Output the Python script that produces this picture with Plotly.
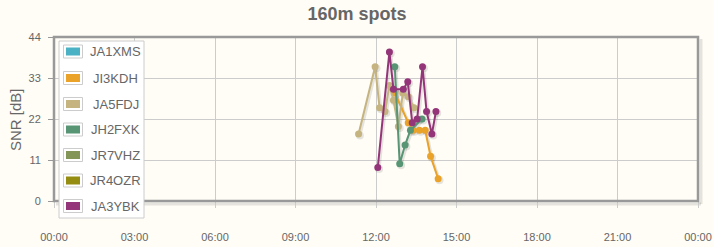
import plotly.graph_objects as go
import pandas as pd

DAY = "2024-01-01"

callsigns = ["JA1XMS", "JI3KDH", "JA5FDJ", "JH2FXK", "JR7VHZ", "JR4OZR", "JA3YBK"]
colors = ["#4bb2c5", "#EAA228", "#c5b47f", "#579575", "#839557", "#958c12", "#953579"]

ja1xms_t, ja1xms_v = [], []
ji3kdh_t = ["12:42", "13:12", "13:23", "13:37", "13:50", "14:02", "14:19"]
ji3kdh_v = [29, 21, 19, 19, 19, 12, 6]
ja5fdj_t = ["11:21", "11:58", "12:08", "12:20", "12:30", "12:39", "12:50", "13:00", "13:12", "13:25"]
ja5fdj_v = [18, 36, 25, 24, 31, 27, 20, 29, 28, 25]
jh2fxk_t = ["12:42", "12:53", "13:05", "13:17", "13:43"]
jh2fxk_v = [36, 10, 15, 19, 22]
jr7vhz_t, jr7vhz_v = [], []
jr4ozr_t, jr4ozr_v = [], []
ja3ybk_t = ["12:04", "12:30", "12:39", "13:01", "13:11", "13:21", "13:32", "13:44", "13:53", "14:05", "14:14"]
ja3ybk_v = [9, 40, 30, 30, 32, 21, 22, 36, 24, 18, 24]

series = [
    (ja1xms_t, ja1xms_v), (ji3kdh_t, ji3kdh_v), (ja5fdj_t, ja5fdj_v),
    (jh2fxk_t, jh2fxk_v), (jr7vhz_t, jr7vhz_v), (jr4ozr_t, jr4ozr_v),
    (ja3ybk_t, ja3ybk_v),
]

y_ticks = [0, 11, 22, 33, 44]
title = "160m spots"
y_title = "SNR [dB]"

W, H = 714, 247
L, R, T, B = 54, 16, 37, 46
pw, ph = W - L - R, H - T - B

BG = "#fffdf6"
TXT = "#666666"
FONT = "Liberation Sans, Arial, sans-serif"

fig = go.Figure()

def ts(lst, dmin=0):
    return [pd.Timestamp(f"{DAY} {s}") + pd.Timedelta(minutes=dmin) for s in lst]

# shadows
for (t, v), c in zip(series, colors):
    if not t:
        continue
    fig.add_trace(go.Scatter(
        x=ts(t, 3), y=[val - 0.4 for val in v], mode="lines+markers",
        line=dict(color="rgba(0,0,0,0.10)", width=3),
        marker=dict(color="rgba(0,0,0,0.10)", size=8),
        hoverinfo="skip", showlegend=False))

for (t, v), c, name in zip(series, colors, callsigns):
    fig.add_trace(go.Scatter(
        x=ts(t), y=v, mode="lines+markers", name=name,
        line=dict(color=c, width=2),
        marker=dict(color=c, size=7),
        showlegend=False))

# border shadow
px2x = 1.0 / pw
px2y = 1.0 / ph
fig.add_shape(type="line", xref="paper", yref="paper",
              x0=1 + 3 * px2x, x1=1 + 3 * px2x, y0=-3 * px2y, y1=1 - 2 * px2y,
              line=dict(color="rgba(0,0,0,0.10)", width=3), layer="below")
fig.add_shape(type="line", xref="paper", yref="paper",
              x0=2 * px2x, x1=1 + 3 * px2x, y0=-3 * px2y, y1=-3 * px2y,
              line=dict(color="rgba(0,0,0,0.10)", width=3), layer="below")
fig.add_shape(type="rect", xref="paper", yref="paper", x0=0, x1=1, y0=0, y1=1,
              line=dict(color="#999999", width=2.5), layer="above")

# legend (manual, jqplot style)
def px_x(p):
    return (p - L) / pw

def px_y(p):
    return (T + ph - p) / ph

fig.add_shape(type="rect", xref="paper", yref="paper",
              x0=px_x(59), x1=px_x(144), y0=px_y(218), y1=px_y(41),
              fillcolor="#ffffff", line=dict(color="#cccccc", width=1), layer="above")
centers = [51.5, 78, 104, 129.5, 155, 180.5, 206]
for yc, c, name in zip(centers, colors, callsigns):
    fig.add_shape(type="rect", xref="paper", yref="paper",
                  x0=px_x(63.5), x1=px_x(82.5), y0=px_y(yc + 6.5), y1=px_y(yc - 6.5),
                  fillcolor="#ffffff", line=dict(color="#cccccc", width=1), layer="above")
    fig.add_shape(type="rect", xref="paper", yref="paper",
                  x0=px_x(66), x1=px_x(80), y0=px_y(yc + 4), y1=px_y(yc - 4),
                  fillcolor=c, line=dict(width=0), layer="above")
    fig.add_annotation(xref="paper", yref="paper", x=px_x(115.5), y=px_y(yc),
                       text=name, showarrow=False, xanchor="center", yanchor="middle",
                       font=dict(family=FONT, size=13, color=TXT))

# y-axis title placed as annotation
fig.add_annotation(xref="paper", yref="paper", x=px_x(15), y=px_y(120),
                   text=y_title, showarrow=False, textangle=-90,
                   xanchor="center", yanchor="middle",
                   font=dict(family=FONT, size=15, color=TXT))

fig.update_layout(
    width=W, height=H,
    margin=dict(l=L, r=R, t=T, b=B, pad=0, autoexpand=False),
    paper_bgcolor=BG, plot_bgcolor=BG,
    title=dict(text=f"<b>{title}</b>", x=0.5, xanchor="center", xref="container",
               y=1 - 14 / H, yanchor="middle",
               font=dict(family=FONT, size=18, color=TXT)),
    xaxis=dict(
        type="date", automargin=False,
        range=[pd.Timestamp(f"{DAY} 00:00"), pd.Timestamp(f"{DAY} 00:00") + pd.Timedelta(hours=24)],
        dtick=3 * 3600 * 1000, tick0=f"{DAY} 00:00", tickformat="%H:%M",
        showgrid=True, gridcolor="#cccccc", gridwidth=1,
        ticks="outside", ticklen=6, tickcolor="#cccccc", tickwidth=1,
        ticklabelstandoff=20,
        tickfont=dict(family=FONT, size=11, color=TXT),
        zeroline=False, showline=False, fixedrange=True,
    ),
    yaxis=dict(
        range=[0, 44], tickvals=y_ticks, automargin=False,
        showgrid=True, gridcolor="#cccccc", gridwidth=1,
        ticks="outside", ticklen=5, tickcolor="#999999", tickwidth=1,
        ticklabelstandoff=5,
        tickfont=dict(family=FONT, size=11, color=TXT),
        zeroline=False, showline=False, fixedrange=True,
    ),
)

fig.write_html("out.html")
